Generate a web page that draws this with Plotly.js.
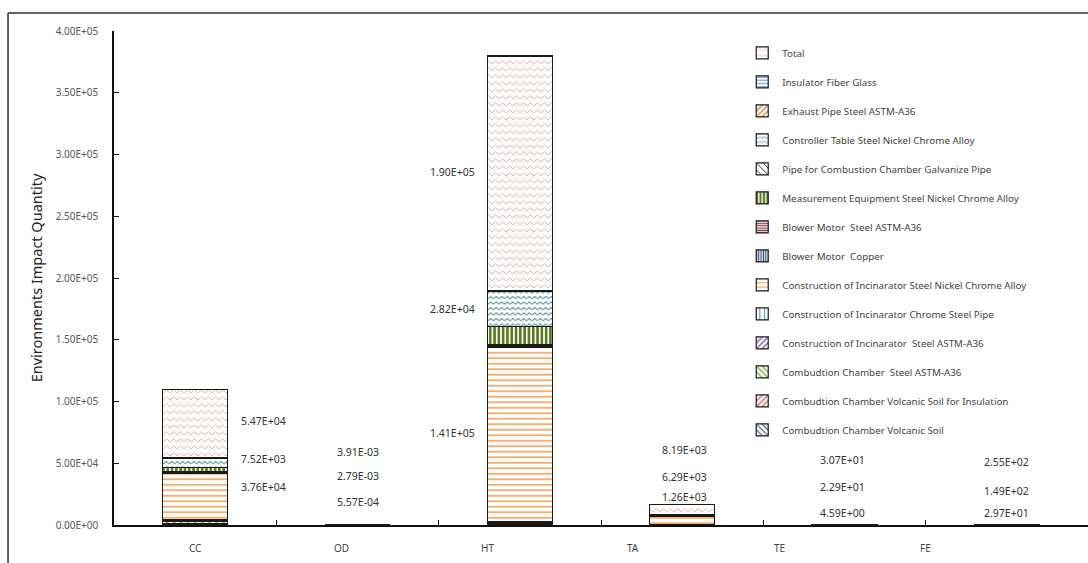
<!DOCTYPE html>
<html><head><meta charset="utf-8">
<script src="https://cdn.plot.ly/plotly-3.0.1.min.js"></script>
<style>html,body{margin:0;padding:0;background:#fff;} #chart{width:1088px;height:563px;}</style>
</head><body><div id="chart"></div>
<script>
// ---------- DATA ----------
const categories = ['CC', 'OD', 'HT', 'TA', 'TE', 'FE'];

// stack order: bottom -> top
const volcanicSoil          = [800,   4e-5,   500,    60,   0.3,  5];
const volcanicSoilInsul     = [600,   3e-5,   400,    40,   0.2,  4];
const chamberSteelA36       = [1200,  8e-5,   1000,   90,   0.5,  8];
const constrSteelA36        = [900,   6e-5,   800,    70,   0.4,  6];
const constrChromePipe      = [500,   4e-5,   400,    40,   0.3,  4];
const constrNiCrAlloy       = [37600, 2.79e-3, 141000, 6290, 22.9, 149];
const blowerCopper          = [700,   5e-5,   700,    50,   0.3,  6];
const blowerSteelA36        = [900,   6e-5,   900,    60,   0.4,  7];
const measurementNiCr       = [3100,  1.3e-4, 14800,  140,  0.4,  12];
const pipeGalvanize         = [300,   2e-5,   300,    30,   0.2,  3];
const controllerNiCr        = [7520,  5.57e-4, 28200, 1260, 4.59, 29.7];
const exhaustSteelA36       = [400,   3e-5,   500,    40,   0.2,  12];
const insulatorFiberGlass   = [200,   2e-5,   300,    20,   0.1,  9];
const total                 = [54700, 3.91e-3, 190000, 8190, 30.7, 255];

const seriesNames = [
  'Combudtion Chamber Volcanic Soil',
  'Combudtion Chamber Volcanic Soil for Insulation',
  'Combudtion Chamber  Steel ASTM-A36',
  'Construction of Incinarator  Steel ASTM-A36',
  'Construction of Incinarator Chrome Steel Pipe',
  'Construction of Incinarator Steel Nickel Chrome Alloy',
  'Blower Motor  Copper',
  'Blower Motor  Steel ASTM-A36',
  'Measurement Equipment Steel Nickel Chrome Alloy',
  'Pipe for Combustion Chamber Galvanize Pipe',
  'Controller Table Steel Nickel Chrome Alloy',
  'Exhaust Pipe Steel ASTM-A36',
  'Insulator Fiber Glass',
  'Total'
];
const seriesValues = [volcanicSoil, volcanicSoilInsul, chamberSteelA36, constrSteelA36,
  constrChromePipe, constrNiCrAlloy, blowerCopper, blowerSteelA36, measurementNiCr,
  pipeGalvanize, controllerNiCr, exhaustSteelA36, insulatorFiberGlass, total];

const yTickVals = [0, 50000, 100000, 150000, 200000, 250000, 300000, 350000, 400000];

// ---------- STYLE ----------
const PINK = '#eeb3b3', TEAL = '#4a8796';
const patterns = [
  {shape: '\\', fgcolor: '#4f6d8f', size: 5, solidity: 0.3},
  {shape: '/',  fgcolor: '#d9534f', size: 5, solidity: 0.3},
  {shape: '\\', fgcolor: '#8aaa3c', size: 5, solidity: 0.35},
  {shape: '/',  fgcolor: '#7b5ea7', size: 5, solidity: 0.35},
  {shape: '|',  fgcolor: '#5b9bbd', size: 6, solidity: 0.25},
  {shape: '-',  fgcolor: '#f7a45c', size: 5.5, solidity: 0.3},
  {shape: '|',  fgcolor: '#2e4a7d', size: 3, solidity: 0.5},
  {shape: '-',  fgcolor: '#8b3a3a', size: 3, solidity: 0.5},
  {shape: '|',  fgcolor: '#5d7a22', size: 4.3, solidity: 0.62},
  {shape: '\\', fgcolor: '#333333', size: 6, solidity: 0.2},
  {shape: '-',  fgcolor: TEAL, size: 5.5, solidity: 0.2},
  {shape: '/',  fgcolor: '#e07b2e', size: 5, solidity: 0.3},
  {shape: '-',  fgcolor: '#4f81bd', size: 4, solidity: 0.3},
  {shape: '-',  fgcolor: PINK, size: 7, solidity: 0.15}
];

const traces = seriesNames.map((name, i) => ({
  type: 'bar', name: name, x: categories, y: seriesValues[i],
  legendgroup: 'g' + i, legendrank: 1000 - i,
  marker: {color: '#ffffff', line: {color: '#1a1a1a', width: 1.2},
           pattern: Object.assign({bgcolor: '#ffffff', fillmode: 'replace'}, patterns[i])},
  hoverinfo: 'name+y'
}));

function fmtE(v) {
  const s = v.toExponential(2).toUpperCase();       // e.g. 5.47E+4
  return s.replace(/E([+-])(\d)$/, 'E$10$2');
}

// data label placement: [category index (x), value array, column, label y position]
const labelSpecs = [
  [0.418, total, 0, 84300], [0.418, controllerNiCr, 0, 53200], [0.418, constrNiCrAlloy, 0, 30600],
  [1.0, total, 1, 59100], [1.0, constrNiCrAlloy, 1, 39700], [1.0, controllerNiCr, 1, 18600],
  [1.588, total, 2, 285800], [1.588, controllerNiCr, 2, 174900], [1.588, constrNiCrAlloy, 2, 74500],
  [3.017, total, 3, 60700], [3.017, constrNiCrAlloy, 3, 39100], [3.017, controllerNiCr, 3, 22500],
  [3.985, total, 4, 52600], [3.985, constrNiCrAlloy, 4, 30800], [3.985, controllerNiCr, 4, 9800],
  [5.0, total, 5, 51000], [5.0, constrNiCrAlloy, 5, 27800], [5.0, controllerNiCr, 5, 10100]
];
const annotations = labelSpecs.map(s => ({
  x: s[0], y: s[3], xref: 'x', yref: 'y', text: fmtE(s[1][s[2]]), showarrow: false,
  font: {family: 'Noto Sans, sans-serif', size: 10.5, color: '#333'},
  xanchor: 'center', yanchor: 'middle'
}));
// category labels (offset as in the original)
categories.forEach((c, i) => annotations.push({
  x: i * 0.9, y: -0.047, xref: 'x', yref: 'paper', text: c, showarrow: false,
  font: {family: 'Noto Sans, sans-serif', size: 10, color: '#444'},
  xanchor: 'center', yanchor: 'middle'
}));

const layout = {
  width: 1088, height: 563,
  margin: {l: 114, r: 0, t: 31, b: 38},
  paper_bgcolor: '#fff', plot_bgcolor: '#fff',
  barmode: 'stack', bargap: 0.6,
  font: {family: 'Noto Sans, sans-serif', color: '#444'},
  showlegend: true,
  legend: {x: 0.645, y: 0.985, xanchor: 'left', yanchor: 'top',
           traceorder: 'grouped', tracegroupgap: 10,
           font: {size: 9.8, color: '#444'}, bgcolor: 'rgba(0,0,0,0)'},
  xaxis: {type: 'category', range: [-0.5, 5.5], showline: true, linecolor: '#111', linewidth: 1.5,
          ticks: 'inside', tickson: 'boundaries', ticklen: 5, tickcolor: '#111',
          showticklabels: false, showgrid: false, zeroline: false, fixedrange: true},
  yaxis: {range: [0, 400000], showline: true, linecolor: '#111', linewidth: 1.5,
          ticks: 'inside', ticklen: 5, tickcolor: '#111',
          tickvals: yTickVals, ticktext: yTickVals.map(fmtE), ticklabelstandoff: 12,
          tickfont: {size: 10, color: '#595959'}, showgrid: false, zeroline: false,
          title: {text: 'Environments Impact Quantity', font: {size: 14.5, color: '#222'}, standoff: 10}},
  annotations: annotations,
  shapes: [
    {type: 'line', xref: 'paper', yref: 'paper', x0: -0.1088, x1: 1.02, y0: 1.0364, y1: 1.0364,
     line: {color: '#333', width: 1.5}},
    {type: 'line', xref: 'paper', yref: 'paper', x0: -0.1088, x1: -0.1088, y0: 1.0364, y1: -0.12,
     line: {color: '#333', width: 1.5}}
  ]
};

Plotly.newPlot('chart', traces, layout, {displayModeBar: false}).then(() => {
  // turn the plain line pattern of two series into a zig-zag (wave) pattern like the original
  const toRGB = h => {
    const n = parseInt(h.slice(1), 16);
    return 'rgb(' + ((n >> 16) & 255) + ',' + ((n >> 8) & 255) + ',' + (n & 255) + ')';
  };
  const waves = [toRGB(PINK), toRGB(TEAL)];
  document.querySelectorAll('pattern').forEach(p => {
    const path = p.querySelector('path');
    if (!path) return;
    const st = (path.getAttribute('stroke') || path.style.stroke || '').replace(/\s/g, '');
    if (!waves.includes(st)) return;
    const w = parseFloat(p.getAttribute('width')), h = parseFloat(p.getAttribute('height'));
    path.setAttribute('d', 'M0,' + (h * 0.7) + 'L' + (w / 2) + ',' + (h * 0.25) + 'L' + w + ',' + (h * 0.7));
    path.setAttribute('stroke-width', '1');
    path.style.strokeWidth = '1px';
    path.setAttribute('fill', 'none');
    path.style.fill = 'none';
  });
});
</script>
</body></html>
